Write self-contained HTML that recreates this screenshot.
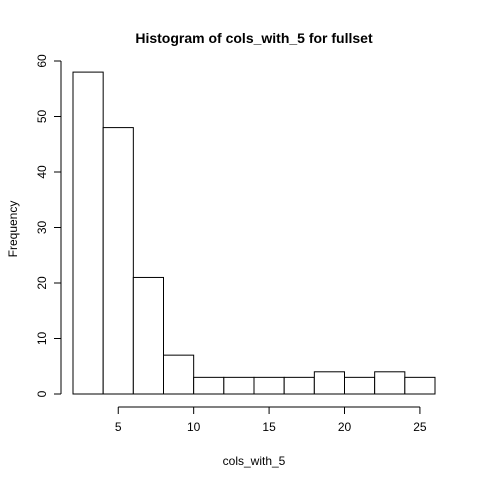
<!DOCTYPE html>
<html><head><meta charset="utf-8"><style>
html,body{margin:0;padding:0;background:#fff;}
svg{display:block;font-family:"Liberation Sans",Arial,sans-serif;}
</style></head><body>
<svg id="chart" width="480" height="480" viewBox="0 0 480 480">
<rect width="480" height="480" fill="#fff"/>
<text x="254" y="43" text-anchor="middle" font-size="14" font-weight="bold">Histogram of cols_with_5 for fullset</text>
<text x="254" y="465" text-anchor="middle" font-size="12">cols_with_5</text>
<text transform="translate(17,229) rotate(-90)" text-anchor="middle" font-size="12">Frequency</text>
<g id="bars"></g><g id="xaxis"></g><g id="yaxis"></g>
</svg>
<script>
const binEdges=[2,4,6,8,10,12,14,16,18,20,22,24,26];
const counts=[58,48,21,7,3,3,3,3,4,3,4,3];
const xTicks=[5,10,15,20,25];
const yTicks=[0,10,20,30,40,50,60];
const NS="http://www.w3.org/2000/svg";
const xs=v=>73+(v-2)*(362/24);
const ys=v=>394-v*(333/60);
function mk(t,a,p){const e=document.createElementNS(NS,t);for(const k in a)e.setAttribute(k,a[k]);p.appendChild(e);return e;}
const bars=document.getElementById('bars');
counts.forEach((c,i)=>{
 const r=mk('rect',{x:xs(binEdges[i]),y:ys(c),width:xs(binEdges[i+1])-xs(binEdges[i]),height:ys(0)-ys(c),fill:'#fff',stroke:'#000','stroke-width':1},bars);
 
 
});
const xa=document.getElementById('xaxis');
const xl=mk('line',{x1:xs(xTicks[0]),x2:xs(xTicks[xTicks.length-1]),y1:407,y2:407,stroke:'#000'},xa);


xTicks.forEach(t=>{
 mk('line',{x1:xs(t),x2:xs(t),y1:407,y2:414,stroke:'#000'},xa);
 const tx=mk('text',{x:xs(t),y:431,'text-anchor':'middle','font-size':12},xa);
 tx.textContent=t;
 
 
});
const ya=document.getElementById('yaxis');
const yl=mk('line',{x1:61,x2:61,y1:ys(yTicks[0]),y2:ys(yTicks[yTicks.length-1]),stroke:'#000'},ya);


yTicks.forEach(t=>{
 mk('line',{x1:54,x2:61,y1:ys(t),y2:ys(t),stroke:'#000'},ya);
 const tx=mk('text',{transform:'translate(46,'+ys(t)+') rotate(-90)','text-anchor':'middle','font-size':12},ya);
 tx.textContent=t;
 
 
});
</script>
</body></html>
